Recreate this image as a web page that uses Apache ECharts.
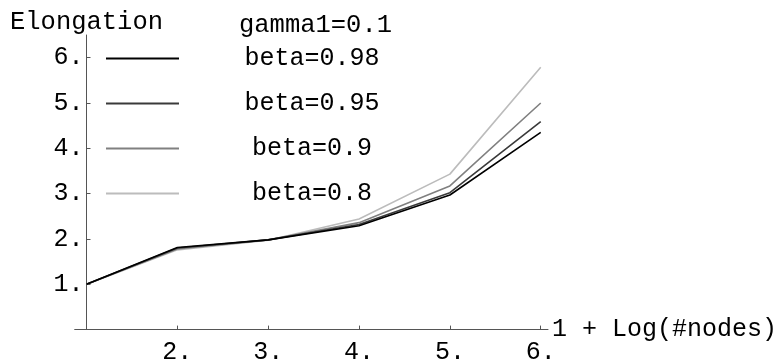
<!DOCTYPE html>
<html><head><meta charset="utf-8">
<script src="https://cdn.jsdelivr.net/npm/echarts@6/dist/echarts.min.js"></script>
<style>html,body{margin:0;padding:0;background:#fff}#c{width:781px;height:359px}</style>
</head><body><div id="c"></div>
<script>
const xValues = [1, 2, 3, 4, 5, 6];
const seriesNames = ['beta=0.98', 'beta=0.95', 'beta=0.9', 'beta=0.8'];
const beta098 = [1.0, 1.81, 1.98, 2.29, 2.97, 4.35];
const beta095 = [1.0, 1.80, 1.98, 2.32, 3.02, 4.59];
const beta090 = [1.0, 1.78, 1.98, 2.36, 3.17, 5.00];
const beta080 = [1.0, 1.76, 1.97, 2.44, 3.43, 5.79];
const xTicks = [2, 3, 4, 5, 6];
const yTicks = [1, 2, 3, 4, 5, 6];
const colors = ['#000000', '#3a3a3a', '#808080', '#bcbcbc'];
const allValues = [beta098, beta095, beta090, beta080];

const FONT = 'Liberation Mono';
const chart = echarts.init(document.getElementById('c'));
const fmt = v => v + '.';
chart.setOption({
  animation: false,
  backgroundColor: '#fff',
  title: [
    {text: 'Elongation', left: 5, top: 4, textStyle: {fontFamily: FONT, fontSize: 25.5, fontWeight: 'normal', color: '#000'}},
    {text: 'gamma1=0.1', left: 234, top: 7, textStyle: {fontFamily: FONT, fontSize: 25.5, fontWeight: 'normal', color: '#000'}}
  ],
  legend: {
    data: seriesNames,
    orient: 'vertical',
    left: 101, top: 41,
    itemWidth: 73, itemHeight: 2, itemGap: 20,
    icon: 'rect',
    formatter: '{a|{name}}',
    textStyle: {fontFamily: FONT, fontSize: 25, color: '#000',
      rich: {a: {width: 256, align: 'center', fontFamily: FONT, fontSize: 25, lineHeight: 25}}}
  },
  grid: {left: 74.7, right: 233, top: 35, bottom: 29.4, containLabel: false, outerBoundsMode: 'none'},
  xAxis: {
    type: 'value', min: 0.87, max: 6.08,
    name: '1 + Log(#nodes)', nameLocation: 'end', nameGap: 4, nameMoveOverlap: false,
    nameTextStyle: {fontFamily: FONT, fontSize: 25, color: '#000', verticalAlign: 'middle'},
    axisLine: {onZero: false, lineStyle: {color: '#555', width: 1}},
    axisTick: {show: true, inside: true, length: 4, customValues: xTicks, lineStyle: {color: '#555'}},
    axisLabel: {customValues: xTicks, formatter: fmt, fontFamily: FONT, fontSize: 25, color: '#000', margin: 10},
    splitLine: {show: false}
  },
  yAxis: {
    type: 'value', min: 0, max: 6.5, offset: -11.8,
    axisLine: {show: true, onZero: false, lineStyle: {color: '#555', width: 1}},
    axisTick: {show: true, inside: true, length: 4, customValues: yTicks, lineStyle: {color: '#555'}},
    axisLabel: {customValues: yTicks, formatter: fmt, fontFamily: FONT, fontSize: 25, color: '#000', margin: 3},
    splitLine: {show: false}
  },
  series: seriesNames.map((n, i) => ({
    name: n, type: 'line', showSymbol: false, symbol: 'none',
    z: 10 - i,
    color: colors[i],
    lineStyle: {color: colors[i], width: 1.6},
    data: xValues.map((x, j) => [x, allValues[i][j]])
  }))
});
</script></body></html>
